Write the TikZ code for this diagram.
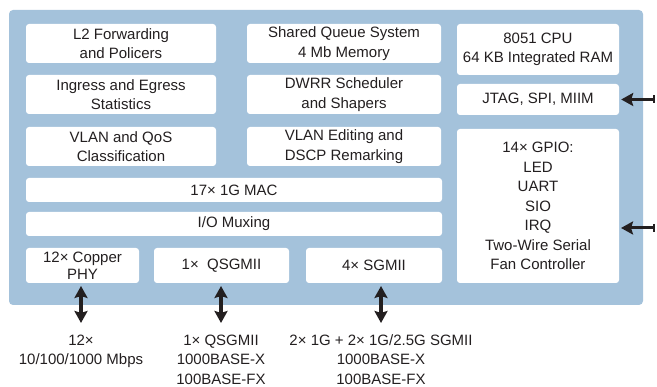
\documentclass[tikz,border=0pt]{standalone}
\usepackage{fontspec}
\setmainfont{Liberation Sans}
\usetikzlibrary{arrows.meta}
\definecolor{chipblue}{HTML}{A4C2DB}
\definecolor{txt}{HTML}{231F20}
\tikzset{
  blk/.style={fill=white, draw=none, rounded corners=3pt, inner sep=0pt, align=center,
    text=txt, font=\fontsize{15}{19.5}\selectfont},
  lbl/.style={inner sep=0pt, align=center, text=txt, font=\fontsize{15}{19.5}\selectfont},
  dblarrow/.style={line width=3.2pt, draw=txt,
    {Stealth[length=12pt,width=13pt,inset=2pt]}-{Stealth[length=12pt,width=13pt,inset=2pt]}},
  sidearrow/.style={line width=3pt, draw=txt,
    {Stealth[length=12pt,width=13pt,inset=2pt]}-{Bar[width=8pt,line width=2pt]}},
}
\begin{document}
\begin{tikzpicture}[x=1pt,y=-1pt]
\useasboundingbox (0,0) rectangle (657,387);
\clip (0,0) rectangle (657,387);
\fill[chipblue, rounded corners=4pt] (9,10) rectangle (643,305);
% left column
\node[blk, minimum width=190pt, minimum height=39pt] (l2) at (121,43.5) {L2 Forwarding\\and Policers};
\node[blk, minimum width=190pt, minimum height=39pt] (ing) at (121,94.5) {Ingress and Egress\\Statistics};
\node[blk, minimum width=190pt, minimum height=39pt] (vqos) at (121,146.5) {VLAN and QoS\\Classification};
% middle column
\node[blk, minimum width=194pt, minimum height=39pt] (sq) at (344,43.5) {Shared Queue System\\4 Mb Memory};
\node[blk, minimum width=194pt, minimum height=39pt] (dwrr) at (344,94.5) {DWRR Scheduler\\and Shapers};
\node[blk, minimum width=194pt, minimum height=39pt] (vedit) at (344,146.5) {VLAN Editing and\\DSCP Remarking};
% right column
\node[blk, minimum width=162pt, minimum height=51pt] (cpu) at (538,49.5) {8051 CPU\\64 KB Integrated RAM};
\node[blk, minimum width=162pt, minimum height=31pt] (jtag) at (538,99.5) {JTAG, SPI, MIIM};
\node[blk, minimum width=162pt, minimum height=154pt] (gpio) at (538,206) {14\texttimes\ GPIO:\\LED\\UART\\SIO\\IRQ\\Two-Wire Serial\\Fan Controller};
% wide rows
\node[blk, minimum width=416pt, minimum height=24pt] (mac) at (234,190) {17\texttimes\ 1G MAC};
\node[blk, minimum width=416pt, minimum height=24pt] (io) at (234,224) {I/O Muxing};
% ports
\node[blk, minimum width=113pt, minimum height=35pt, font=\fontsize{15}{17}\selectfont] (phy) at (82.5,265.5) {12\texttimes\ Copper\\PHY};
\node[blk, minimum width=135pt, minimum height=35pt] (qsg) at (221.5,265.5) {1\texttimes\ \ QSGMII};
\node[blk, minimum width=136pt, minimum height=35pt] (sgm) at (374,265.5) {4\texttimes\ SGMII};
% bottom labels
\node[lbl] (lphy) at (81,351.5) {12\texttimes\\10/100/1000 Mbps};
\node[lbl] (lqsg) at (221,359.5) {1\texttimes\ QSGMII\\1000BASE-X\\100BASE-FX};
\node[lbl] (lsgm) at (381,359.5) {2\texttimes\ 1G + 2\texttimes\ 1G/2.5G SGMII\\1000BASE-X\\100BASE-FX};
% arrows
\coordinate (aphyT) at (81,286); \coordinate (aphyB) at (81,323);
\coordinate (aqsgT) at (221,286); \coordinate (aqsgB) at (221,323);
\coordinate (asgmT) at (381,286); \coordinate (asgmB) at (381,323);
\draw[dblarrow] (aphyT) -- (aphyB);
\draw[dblarrow] (aqsgT) -- (aqsgB);
\draw[dblarrow] (asgmT) -- (asgmB);
\coordinate (jtagR) at (655,99.5);
\coordinate (gpioR) at (655,228);
\coordinate (gpioL) at (621,228);
\draw[sidearrow] ([xshift=2pt]jtag.east) -- (jtagR);
\draw[sidearrow] (gpioL) -- (gpioR);
\end{tikzpicture}
\end{document}
